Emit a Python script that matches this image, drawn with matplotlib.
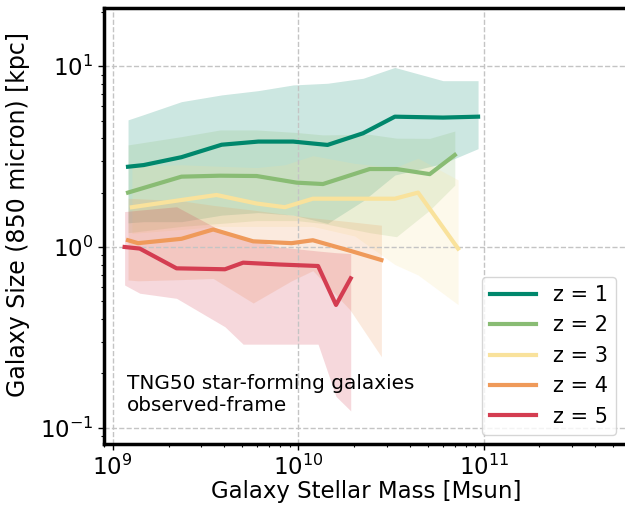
import matplotlib
matplotlib.use('Agg')
import matplotlib.pyplot as plt

# stellar mass bins [Msun] and 850 micron sizes [kpc] per redshift:
# median, 16th and 84th percentiles
z1_mass = [1.21e9, 1.47e9, 2.35e9, 3.87e9, 6.1e9, 9.4e9, 1.44e10, 2.24e10, 3.32e10, 6.04e10, 9.33e10]
z1_med = [2.78, 2.84, 3.14, 3.68, 3.83, 3.83, 3.67, 4.26, 5.26, 5.2, 5.26]
z1_lo = [1.36, 1.38, 1.38, 1.5, 1.55, 1.5, 1.35, 1.8, 2.5, 2.9, 3.5]
z1_hi = [5.05, 5.4, 6.37, 6.94, 7.33, 7.88, 8.05, 8.58, 9.85, 8.32, 8.32]

z2_mass = [1.21e9, 2.35e9, 3.79e9, 5.97e9, 9.8e9, 1.36e10, 2.43e10, 3.39e10, 5.12e10, 6.99e10]
z2_med = [2.0, 2.45, 2.48, 2.47, 2.27, 2.23, 2.7, 2.7, 2.53, 3.23]
z2_lo = [1.2, 1.3, 1.35, 1.4, 1.4, 1.35, 1.2, 1.14, 1.6, 2.2]
z2_hi = [3.67, 4.08, 4.44, 4.44, 4.3, 4.17, 4.2, 4.0, 3.99, 4.38]

z3_mass = [1.27e9, 2.35e9, 3.63e9, 5.97e9, 8.48e9, 1.2e10, 2.02e10, 3.32e10, 4.43e10, 7.28e10]
z3_med = [1.66, 1.82, 1.94, 1.74, 1.66, 1.85, 1.85, 1.85, 2.0, 0.98]
z3_lo = [1.19, 1.25, 1.3, 1.3, 1.3, 1.3, 1.15, 0.8, 0.7, 0.48]
z3_hi = [2.8, 2.85, 2.8, 2.75, 2.85, 3.2, 2.9, 2.75, 3.1, 2.35]

z4_mass = [1.21e9, 1.37e9, 2.35e9, 3.48e9, 5.72e9, 9.21e9, 1.2e10, 1.9e10, 2.81e10]
z4_med = [1.09, 1.05, 1.11, 1.25, 1.075, 1.05, 1.09, 0.954, 0.847]
z4_lo = [0.657, 0.65, 0.66, 0.67, 0.49, 0.65, 0.74, 0.45, 0.247]
z4_hi = [1.86, 1.85, 1.8, 1.7, 1.6, 1.5, 1.45, 1.38, 1.32]

z5_mass = [1.16e9, 1.4e9, 2.21e9, 4.03e9, 5.05e9, 7.94e9, 1.28e10, 1.6e10, 1.92e10]
z5_med = [1.0, 0.98, 0.762, 0.753, 0.819, 0.80, 0.785, 0.478, 0.671]
z5_lo = [0.616, 0.555, 0.52, 0.362, 0.29, 0.29, 0.29, 0.149, 0.124]
z5_hi = [1.57, 1.6, 1.67, 1.2, 1.12, 1.0, 0.95, 0.93, 0.92]

labels = ['z = 1', 'z = 2', 'z = 3', 'z = 4', 'z = 5']
colors = ['#00876c', '#89bc74', '#f9e29c', '#ef9a5a', '#d43d51']

series = [
    (z1_mass, z1_med, z1_lo, z1_hi),
    (z2_mass, z2_med, z2_lo, z2_hi),
    (z3_mass, z3_med, z3_lo, z3_hi),
    (z4_mass, z4_med, z4_lo, z4_hi),
    (z5_mass, z5_med, z5_lo, z5_hi),
]

fig = plt.figure(figsize=(6.25, 5.05), dpi=100)
# right spine sits just past the edge of the image
ax = fig.add_axes([104/625, 61/505, 524/625, 436/505])

for (m, med, lo, hi), c, lab in zip(series, colors, labels):
    ax.fill_between(m, lo, hi, color=c, alpha=0.2, lw=0)
    ax.plot(m, med, color=c, lw=3, label=lab)

ax.set_xscale('log')
ax.set_yscale('log')
ax.set_xlim(8.98e8, 6e11)
ax.set_ylim(0.0813, 21.0)

ax.grid(True, which='major', ls='--', color='#c4c4c4', lw=1)
for s in ax.spines.values():
    s.set_linewidth(2.5)
ax.tick_params(which='major', direction='out', length=4, width=1, labelsize=16.5)
ax.tick_params(which='minor', direction='out', length=2.5, width=0.8)

ax.set_xlabel('Galaxy Stellar Mass [Msun]', fontsize=16.5, labelpad=0.5)
ax.set_ylabel('Galaxy Size (850 micron) [kpc]', fontsize=17)
ax.yaxis.set_label_coords(-0.141, 0.526)

ax.text(1.2e9, 0.117, 'TNG50 star-forming galaxies\nobserved-frame',
        fontsize=14.4, va='bottom', ha='left')

ax.legend(loc='lower right', bbox_to_anchor=(616/625, 70/505),
          bbox_transform=fig.transFigure, borderaxespad=0,
          fontsize=15, handlelength=2.2)

plt.savefig('out.png', dpi=100)
plt.close()
